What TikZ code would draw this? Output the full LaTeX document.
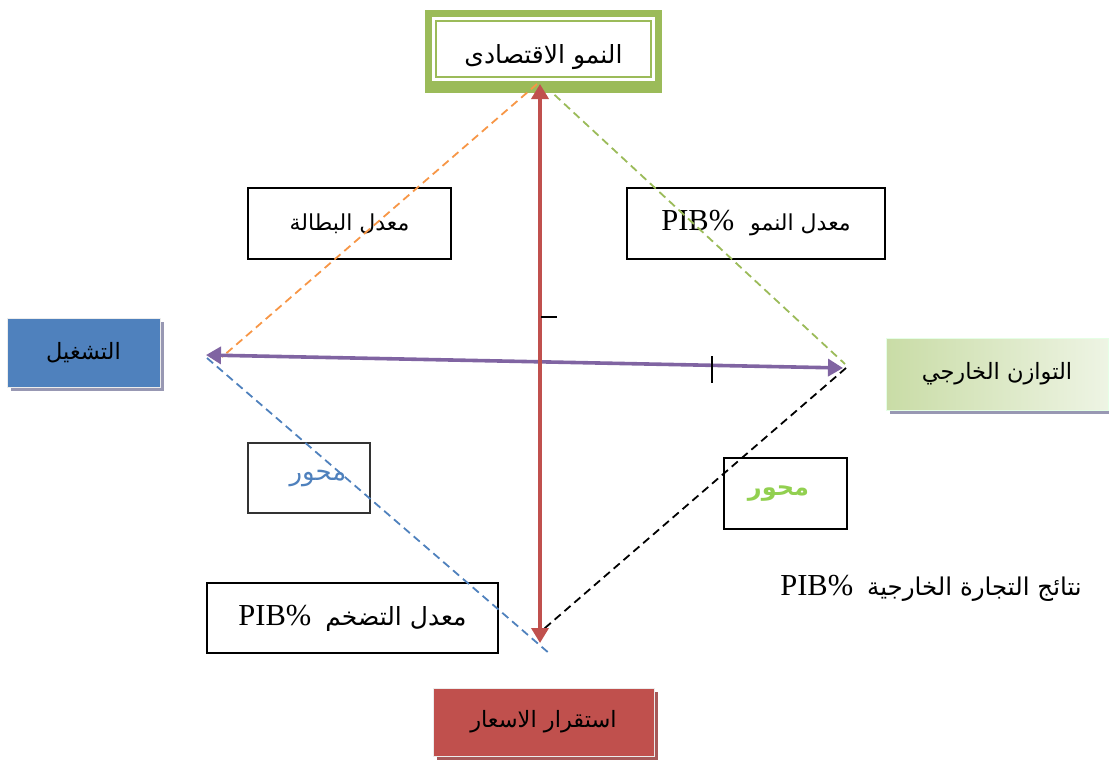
\documentclass[tikz,border=0pt]{standalone}
\usepackage{fontspec}
\setmainfont{Liberation Serif}
\newfontfamily\ar[Script=Arabic]{DejaVu Sans}
\TeXXeTstate=1
\usetikzlibrary{arrows.meta,calc,shadows}

\definecolor{axisred}{HTML}{C0504D}
\definecolor{axispurple}{HTML}{8064A2}
\definecolor{frameolive}{HTML}{9BBB59}
\definecolor{dashorange}{HTML}{F79646}
\definecolor{dashblue}{HTML}{4F81BD}
\definecolor{boxblue}{HTML}{4F81BD}
\definecolor{boxred}{HTML}{C0504D}
\definecolor{greenA}{HTML}{C9DCA6}
\definecolor{greenB}{HTML}{EEF4E4}
\definecolor{axistext}{HTML}{92D050}

\newcommand{\arsize}[1]{\ar\fontsize{#1}{#1}\selectfont}

\tikzset{
  label box/.style={draw=black, line width=2.6pt, fill=white, inner sep=0pt,
    font=\fontsize{30.5}{34}\selectfont},
  pole/.style={inner sep=0pt, font=\arsize{22.5},
    drop shadow={shadow xshift=4pt, shadow yshift=-4pt, fill=gray!85!blue!70, opacity=1}},
  axis arrow/.style={line width=3.6pt, {Triangle[length=15pt,width=17pt]}-{Triangle[length=15pt,width=17pt]}},
  link/.style={line width=1.8pt, dash pattern=on 8pt off 5pt},
  tick/.style={line width=2pt, black}
}

\begin{document}
\begin{tikzpicture}[x=1pt,y=-1pt]
\useasboundingbox (0,0) rectangle (1109,761);

% top pole: heavy olive frame with a thin inner rule
\node[inner sep=0pt, minimum width=237pt, minimum height=83pt, fill=frameolive]
      (growth) at (543.5,51.5) {};
\fill[white] ($(growth.north west)+(7,7)$) rectangle ($(growth.south east)+(-7,-12)$);
\draw[frameolive, line width=1.8pt]
  ($(growth.north west)+(11,11)$) rectangle ($(growth.south east)+(-11,-16)$);
\node[inner sep=0pt, font=\arsize{25}] (growthLabel) at (543.5,57)
      {\beginR النمو الاقتصادى\endR};

% the other three poles
\node[pole, fill=boxblue, draw=white!85!gray, line width=1pt,
      minimum width=153pt, minimum height=69pt] (jobs) at (83.5,352.5)
      {\beginR التشغيل\endR};

\node[pole, left color=greenA, right color=greenB, draw=white!90!green,
      line width=1pt, minimum width=222pt, minimum height=72pt] (external)
      at (997,374) {\beginR التوازن الخارجي\endR};

\node[pole, fill=boxred, draw=white!85!gray, line width=1pt,
      minimum width=221pt, minimum height=68pt,
      drop shadow={shadow xshift=4pt, shadow yshift=-4pt, fill=gray!70!red, opacity=1}]
      (prices) at (543.5,722) {\beginR استقرار الاسعار\endR};

% indicator boxes
\node[label box, minimum width=203pt, minimum height=71pt] (unemp) at (349.5,223.5)
  {\beginR{\arsize{22}معدل البطالة}\endR};
\node[label box, minimum width=258pt, minimum height=71pt] (grate) at (756,223.5)
  {\beginR{\arsize{22}معدل النمو}\hspace*{16pt}\beginL PIB\%\endL\endR};
\node[label box, minimum width=291pt, minimum height=70pt] (infl) at (352.5,618)
  {\beginR{\arsize{25}معدل التضخم}\hspace*{14pt}\beginL PIB\%\endL\endR};
\node[label box, line width=1.3pt, draw=black!80, minimum width=122pt, minimum height=70pt,
      text=dashblue] (axisL) at (309,478)
  {\hspace*{18pt}\beginR{\arsize{26}محور}\endR};
\node[label box, line width=2.4pt, minimum width=123pt, minimum height=71pt,
      text=axistext] (axisR) at (785.5,493.5)
  {\raisebox{-6pt}{\beginR{\ar\bfseries\fontsize{24}{24}\selectfont محور}\endR}\hspace*{14pt}};

\node[inner sep=0pt, font=\fontsize{30.5}{34}\selectfont] (trade) at (931,588)
  {\beginR{\arsize{24.5}نتائج التجارة الخارجية}\hspace*{14pt}\beginL PIB\%\endL\endR};

% ends of the two axes and of the dashed sides
\coordinate (top) at (540,84);
\coordinate (bottom) at (540,643);
\coordinate (left) at (206,355);
\coordinate (right) at (843,368);
\coordinate (oTop) at (537,84);
\coordinate (oLeft) at (222,357);
\coordinate (gTop) at (545,86);
\coordinate (gRight) at (845,364);
\coordinate (bLeft) at (207,358);
\coordinate (bBottom) at (550,654);
\coordinate (kRight) at (846,368);
\coordinate (kBottom) at (538,634);

% dashed sides of the square
\draw[link, dashorange] (oTop) -- (oLeft);
\draw[link, frameolive] (gTop) -- (gRight);
\draw[link, dashblue] (bLeft) -- (bBottom);
\draw[link, black] (kRight) -- (kBottom);

% axes
\draw[axis arrow, axispurple] (left) -- (right);
\draw[axis arrow, axisred] (top) -- (bottom);

% tick marks
\coordinate (hA) at (541,317);
\coordinate (hB) at (557,317);
\coordinate (vA) at (712,356);
\coordinate (vB) at (712,383);
\draw[tick] (hA) -- (hB);
\draw[tick] (vA) -- (vB);
\end{tikzpicture}
\end{document}
